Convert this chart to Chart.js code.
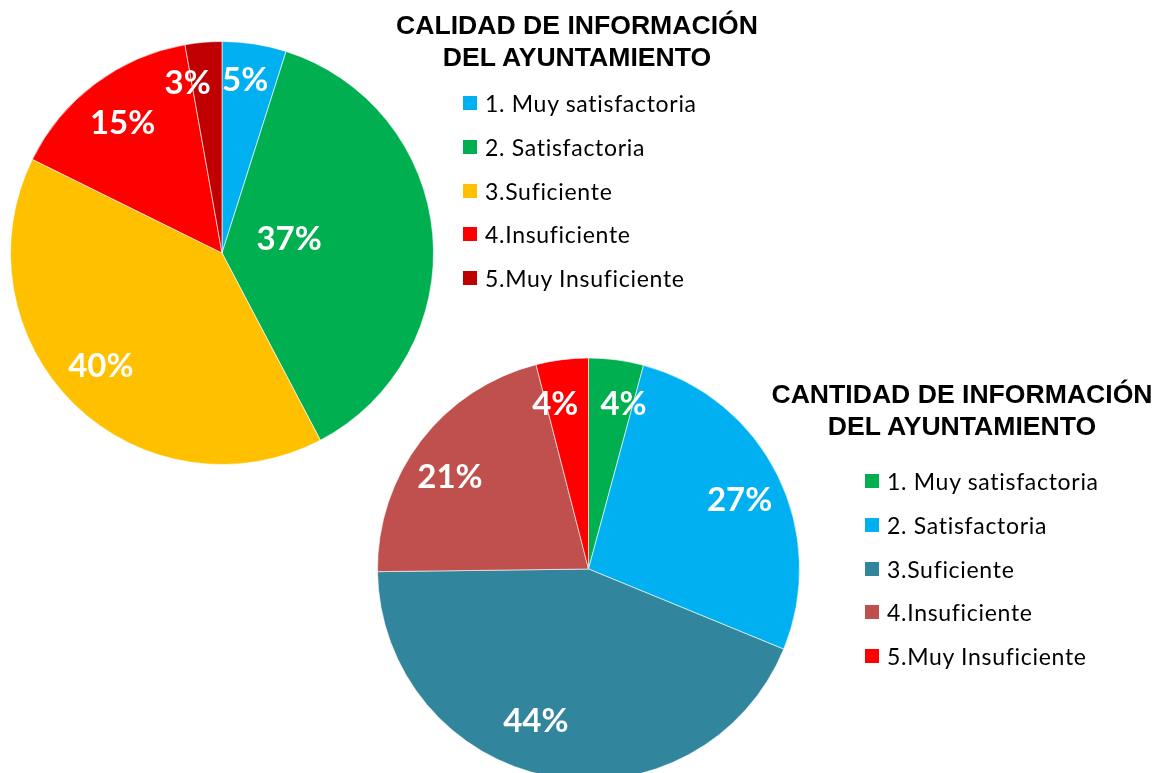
<!DOCTYPE html>
<html>
<head>
<meta charset="utf-8">
<script src="https://cdn.jsdelivr.net/npm/chart.js@4/dist/chart.umd.min.js"></script>
<style>
  body { margin: 0; width: 1164px; height: 773px; overflow: hidden; background: #fff; position: relative; }
  canvas { position: absolute; left: 0; top: 0; }
  .title { position: absolute; font-family: "Liberation Sans", Arial, sans-serif; font-weight: bold; font-size: 26.6px; line-height: 32px; text-align: center; color: #000; white-space: nowrap; }
  .legend { position: absolute; font-family: Lato, "Open Sans", sans-serif; font-size: 23px; letter-spacing: 0.7px; font-variant-ligatures: none; color: #000; }
  .legend div { position: absolute; left: 0; height: 30px; display: flex; align-items: center; white-space: nowrap; }
  .legend span { display: inline-block; width: 14px; height: 14px; margin-right: 8px; }
</style>
</head>
<body>
<canvas id="calidadChart" width="1164" height="800"></canvas>
<canvas id="cantidadChart" width="1164" height="800"></canvas>
<div class="title" id="calidadTitle" style="left:377px; top:9px; width:400px;"></div>
<div class="title" id="cantidadTitle" style="left:762px; top:378px; width:400px;"></div>
<div class="legend" id="calidadLegend" style="left:463px; top:0;"></div>
<div class="legend" id="cantidadLegend" style="left:865px; top:0;"></div>
<script>
// Calidad de información (top-left pie)
var calidadTitle = 'CALIDAD DE INFORMACIÓN<br>DEL AYUNTAMIENTO';
var calidadLabels = ['1. Muy satisfactoria', '2. Satisfactoria', '3.Suficiente', '4.Insuficiente', '5.Muy Insuficiente'];
var calidadValues = [4.9, 37.4, 40.0, 14.9, 2.8];
var calidadColors = ['#00B0F0', '#00B050', '#FFC000', '#FF0000', '#C00000'];

// Cantidad de información (bottom-right pie)
var cantidadTitle = 'CANTIDAD DE INFORMACIÓN<br>DEL AYUNTAMIENTO';
var cantidadLabels = ['1. Muy satisfactoria', '2. Satisfactoria', '3.Suficiente', '4.Insuficiente', '5.Muy Insuficiente'];
var cantidadValues = [4.2, 27.0, 43.6, 21.2, 4.0];
var cantidadColors = ['#00B050', '#00B0F0', '#31859C', '#C0504D', '#FF0000'];

// percentage labels inside the slices, [radius fraction, angle shift in degrees]
var sliceLabels = {
    id: 'sliceLabels',
    afterDatasetsDraw: function (chart, args, opts) {
        var ctx = chart.ctx;
        var data = chart.data.datasets[0].data;
        var total = data.reduce(function (a, b) { return a + b; }, 0);
        ctx.save();
        ctx.font = 'bold 33px Lato, "Open Sans", sans-serif';
        ctx.fillStyle = '#fff';
        ctx.textAlign = 'center';
        ctx.textBaseline = 'middle';
        chart.getDatasetMeta(0).data.forEach(function (arc, i) {
            var p = opts.place[i];
            var a = (arc.startAngle + arc.endAngle) / 2 + p[1] * Math.PI / 180;
            var r = arc.outerRadius * p[0];
            ctx.fillText(Math.round(data[i] / total * 100) + '%', arc.x + Math.cos(a) * r, arc.y + Math.sin(a) * r);
        });
        ctx.restore();
    }
};

function makePie(id, labels, values, colors, padding, place) {
    var ctx = document.getElementById(id).getContext('2d');
    return new Chart(ctx, {
        type: 'pie',
        data: {
            labels: labels,
            datasets: [{
                data: values,
                backgroundColor: colors,
                borderColor: 'rgba(255,255,255,0.6)',
                borderWidth: 1
            }]
        },
        options: {
            responsive: false,
            animation: false,
            layout: { padding: padding },
            plugins: {
                legend: { display: false },
                tooltip: { enabled: false },
                sliceLabels: { place: place }
            }
        },
        plugins: [sliceLabels]
    });
}

function makeLegend(id, labels, colors, firstRow, rowGap) {
    var box = document.getElementById(id);
    labels.forEach(function (lab, i) {
        var row = document.createElement('div');
        row.style.top = (firstRow + i * rowGap - 15) + 'px';
        row.innerHTML = '<span style="background:' + colors[i] + '"></span>' + lab;
        box.appendChild(row);
    });
}

makePie('calidadChart', calidadLabels, calidadValues, calidadColors,
    { left: 10, top: 41, right: 730, bottom: 335 },
    [[0.824, -1.2], [0.324, -6.5], [0.785, 2.6], [0.774, -0.5], [0.82, -6.4]]);

makePie('cantidadChart', cantidadLabels, cantidadValues, cantidadColors,
    { left: 377, top: 357, right: 364, bottom: 19 },
    [[0.80, 4.4], [0.787, 1.8], [0.766, 8.2], [0.787, -4.0], [0.796, -4.2]]);

document.getElementById('calidadTitle').innerHTML = calidadTitle;
document.getElementById('cantidadTitle').innerHTML = cantidadTitle;
makeLegend('calidadLegend', calidadLabels, calidadColors, 103, 43.8);
makeLegend('cantidadLegend', cantidadLabels, cantidadColors, 481, 43.75);
</script>
</body>
</html>
